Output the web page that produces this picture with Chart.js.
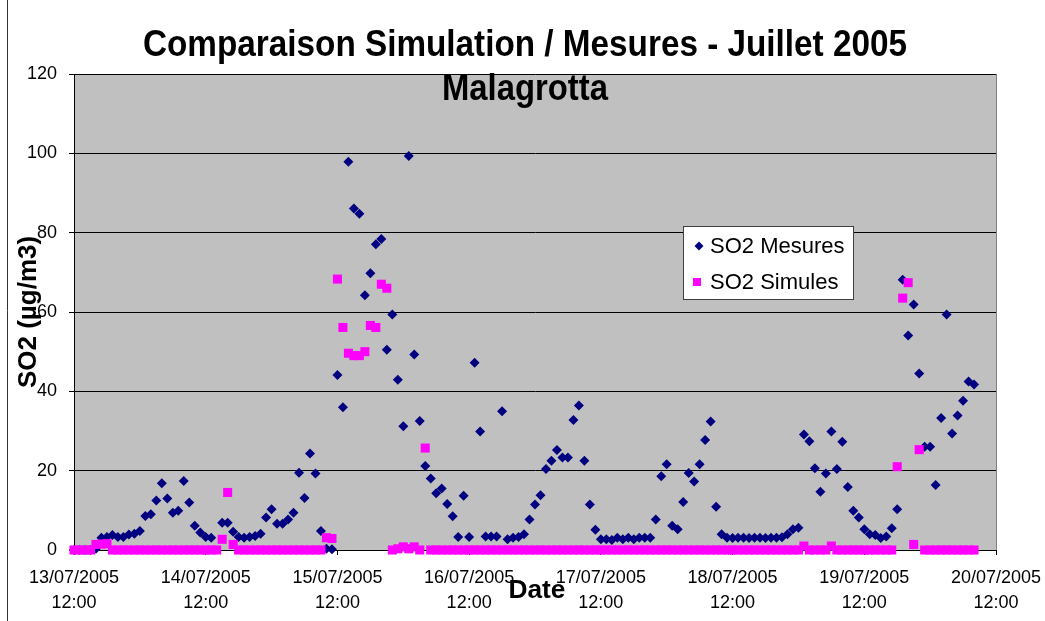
<!DOCTYPE html>
<html>
<head>
<meta charset="utf-8">
<title>SO2 Malagrotta</title>
<script src="https://cdn.jsdelivr.net/npm/chart.js@4.4.0/dist/chart.umd.min.js"></script>
<style>
    html, body { margin: 0; padding: 0; background: #fff; }
    #wrap { width: 1045px; height: 621px; position: relative; }
</style>
</head>
<body>
<div id="wrap"><canvas id="chart"></canvas></div>
<script>
// Axis labels
const dayLabels = ['13/07/2005', '14/07/2005', '15/07/2005', '16/07/2005', '17/07/2005', '18/07/2005', '19/07/2005', '20/07/2005'];
const timeLabel = '12:00';
const yTicks = [0, 20, 40, 60, 80, 100, 120];

// One value per hour from 13/07/2005 12:00 (null = no measurement)
const mesures = [
    0, 0, 0, 0, 0.3,
    3.1, 3.3, 3.8, 3.3, 3.3, 3.9, 4.1, 4.8,
    8.6, 9.0, 12.5, 16.8, 13, 9.4, 9.9, 17.4, 12, 6.1, 4.4, 3.3, 3.1,
    null,
    6.9, 6.9, 4.6, 3.3, 3.1, 3.3, 3.5, 4.1, 8.2, 10.3, 6.6, 6.6, 7.7, 9.4, 19.5, 13.1, 24.3, 19.3, 4.8, 0.3, 0.2,
    44.1, 36, 97.9, 86.1, 84.8, 64.2, 69.8, 77.1, 78.4, 50.5, 59.4, 42.9, 31.2, 99.3, 49.3, 32.5, 21.2,
    18, 14.3, 15.5, 11.6, 8.5, 3.3, 13.7, 3.3, 47.2, 29.9, 3.4, 3.4, 3.4, 35, 2.7, 3.1, 3.3, 4.0,
    7.7, 11.5, 13.8, 20.4, 22.5, 25.2, 23.3, 23.3, 32.8, 36.4, 22.5, 11.5, 5.1,
    2.7, 2.7, 2.5, 3.1, 2.7, 3.1, 2.7, 3.1, 3.1, 3.1,
    7.7, 18.6, 21.6, 6.1, 5.2, 12.1, 19.4, 17.3, 21.6, 27.7, 32.4, 10.9, 4.0,
    3.1, 3.0, 3.1, 3.1, 3.0, 3.1, 3.1, 3.0, 3.1, 3.1, 3.2,
    4.0, 5.2, 5.6, 29.1, 27.4, 20.6, 14.7, 19.3, 29.9, 20.4, 27.3, 15.9, 9.9, 8.2, 5.2, 4.0, 3.8, 3.0, 3.4, 5.5, 10.3,
    68.1, 54.1, 61.9, 44.5, 26, 26, 16.4, 33.3, 59.4, 29.4, 33.9, 37.6, 42.5, 41.7
];

const simules = [
    0, 0, 0, 0,
    1.4, 1.5, 1.6,
    0, 0, 0, 0, 0, 0, 0, 0, 0, 0, 0, 0, 0, 0, 0, 0, 0, 0, 0, 0,
    2.7, 14.5, 1.4,
    0, 0, 0, 0, 0, 0, 0, 0, 0, 0, 0, 0, 0, 0, 0, 0,
    3.1, 2.9,
    68.3, 56.1, 49.6, 49, 49, 50, 56.6, 56.1, 67, 66,
    0, 0.3, 0.8, 0.3, 0.8, 0,
    25.7,
    0, 0, 0, 0, 0, 0, 0, 0, 0, 0, 0, 0, 0, 0, 0, 0, 0, 0, 0, 0,
    0, 0, 0, 0, 0, 0, 0, 0, 0, 0, 0, 0, 0, 0, 0, 0, 0, 0, 0, 0,
    0, 0, 0, 0, 0, 0, 0, 0, 0, 0, 0, 0, 0, 0, 0, 0, 0, 0, 0, 0,
    0, 0, 0, 0, 0, 0, 0, 0,
    1.0, 0, 0, 0, 0, 1.0,
    0, 0, 0, 0, 0, 0, 0, 0, 0, 0, 0,
    21.0, 63.5, 67.4, 1.4, 25.3,
    0, 0, 0, 0, 0, 0, 0, 0, 0, 0
];

const FONT = "'Liberation Sans', Arial, sans-serif";
const NAVY = '#000080';
const PINK = '#ff00ff';

function toPoints(values) {
    const pts = [];
    values.forEach((v, i) => {
        if (v !== null) pts.push({ x: i, y: v });
    });
    return pts;
}

// text drawn to a given width (the original looks horizontally squeezed)
function fitText(ctx, text, cx, cy, size, width) {
    ctx.save();
    ctx.font = 'bold ' + size + 'px ' + FONT;
    const w = ctx.measureText(text).width;
    ctx.translate(cx, cy);
    ctx.scale(width / w, 1);
    ctx.textAlign = 'center';
    ctx.textBaseline = 'middle';
    ctx.fillText(text, 0, 0);
    ctx.restore();
}

const decorPlugin = {
    id: 'decor',
    beforeDraw(chart) {
        const ctx = chart.ctx;
        const a = chart.chartArea;
        ctx.save();
        ctx.fillStyle = '#fff';
        ctx.fillRect(0, 0, chart.width, chart.height);
        ctx.fillStyle = '#c0c0c0';
        ctx.fillRect(a.left, a.top, a.right - a.left, a.bottom - a.top);
        ctx.restore();
    },
    afterDraw(chart) {
        const ctx = chart.ctx;
        const a = chart.chartArea;
        ctx.save();
        // outer frame, left side
        ctx.strokeStyle = '#333';
        ctx.lineWidth = 1;
        ctx.beginPath();
        ctx.moveTo(7.5, 0);
        ctx.lineTo(7.5, chart.height);
        ctx.stroke();
        // plot right border
        ctx.strokeStyle = '#808080';
        ctx.beginPath();
        ctx.moveTo(Math.round(a.right) + 0.5, a.top);
        ctx.lineTo(Math.round(a.right) + 0.5, a.bottom);
        ctx.stroke();

        ctx.fillStyle = '#000';
        fitText(ctx, 'Comparaison Simulation / Mesures - Juillet 2005', 525, 46, 36, 764);
        fitText(ctx, 'Malagrotta', 525, 90, 36, 166);
        fitText(ctx, 'Date', 537, 591, 25, 57);

        // y axis title
        ctx.save();
        ctx.translate(29, 312);
        ctx.rotate(-Math.PI / 2);
        ctx.font = 'bold 26px ' + FONT;
        ctx.textAlign = 'center';
        ctx.textBaseline = 'middle';
        ctx.fillText('SO2 (\u00b5g/m3)', 0, 0);
        ctx.restore();

        // legend box
        ctx.fillStyle = '#fff';
        ctx.fillRect(683, 226, 170, 73);
        ctx.strokeStyle = '#404040';
        ctx.strokeRect(683.5, 226.5, 170, 73);
        ctx.fillStyle = NAVY;
        ctx.beginPath();
        ctx.moveTo(699 - 4.5, 246);
        ctx.lineTo(699, 246 - 4.5);
        ctx.lineTo(699 + 4.5, 246);
        ctx.lineTo(699, 246 + 4.5);
        ctx.closePath();
        ctx.fill();
        ctx.fillStyle = PINK;
        ctx.fillRect(693, 278, 8, 8);
        ctx.fillStyle = '#000';
        ctx.font = '22px ' + FONT;
        ctx.textAlign = 'left';
        ctx.textBaseline = 'middle';
        ctx.fillText(chart.data.datasets[1].label, 710, 247);
        ctx.fillText(chart.data.datasets[0].label, 710, 283);
        ctx.restore();
    }
};

new Chart(document.getElementById('chart'), {
    type: 'scatter',
    data: {
        datasets: [{
            label: 'SO2 Simules',
            data: toPoints(simules),
            pointStyle: 'rect',
            pointRadius: 6.4,
            pointHoverRadius: 6.4,
            backgroundColor: PINK,
            borderColor: PINK,
            borderWidth: 0,
            clip: false,
            order: 0
        }, {
            label: 'SO2 Mesures',
            data: toPoints(mesures),
            pointStyle: 'rectRot',
            pointRadius: 5,
            pointHoverRadius: 5,
            backgroundColor: NAVY,
            borderColor: NAVY,
            borderWidth: 0,
            clip: false,
            order: 1
        }]
    },
    options: {
        responsive: true,
        maintainAspectRatio: false,
        animation: false,
        events: [],
        layout: {
            padding: { left: 0, top: 74, right: 49, bottom: 0 }
        },
        plugins: {
            legend: { display: false },
            title: { display: false },
            tooltip: { enabled: false }
        },
        scales: {
            x: {
                type: 'linear',
                min: 0,
                max: 168,
                afterFit(scale) {
                    scale.height = 71;
                    scale.paddingLeft = 0;
                    scale.paddingRight = 0;
                },
                afterBuildTicks(scale) {
                    scale.ticks = dayLabels.map((d, i) => ({ value: i * 24 }));
                },
                grid: {
                    drawOnChartArea: false,
                    drawTicks: true,
                    tickLength: 5,
                    color: '#000'
                },
                border: { color: '#000', width: 1 },
                ticks: {
                    autoSkip: false,
                    maxRotation: 0,
                    padding: 11,
                    color: '#000',
                    font: { family: FONT, size: 18, lineHeight: 1.36 },
                    callback: (v) => [dayLabels[Math.round(v / 24)], timeLabel]
                }
            },
            y: {
                min: 0,
                max: 120,
                afterFit(scale) {
                    scale.width = 74;
                    scale.paddingTop = 0;
                    scale.paddingBottom = 0;
                },
                afterBuildTicks(scale) {
                    scale.ticks = yTicks.map(v => ({ value: v }));
                },
                grid: {
                    color: '#000',
                    lineWidth: 1,
                    tickLength: 5
                },
                border: { color: '#000', width: 1 },
                ticks: {
                    padding: 12,
                    color: '#000',
                    font: { family: FONT, size: 18 }
                }
            }
        }
    },
    plugins: [decorPlugin]
});
</script>
</body>
</html>
